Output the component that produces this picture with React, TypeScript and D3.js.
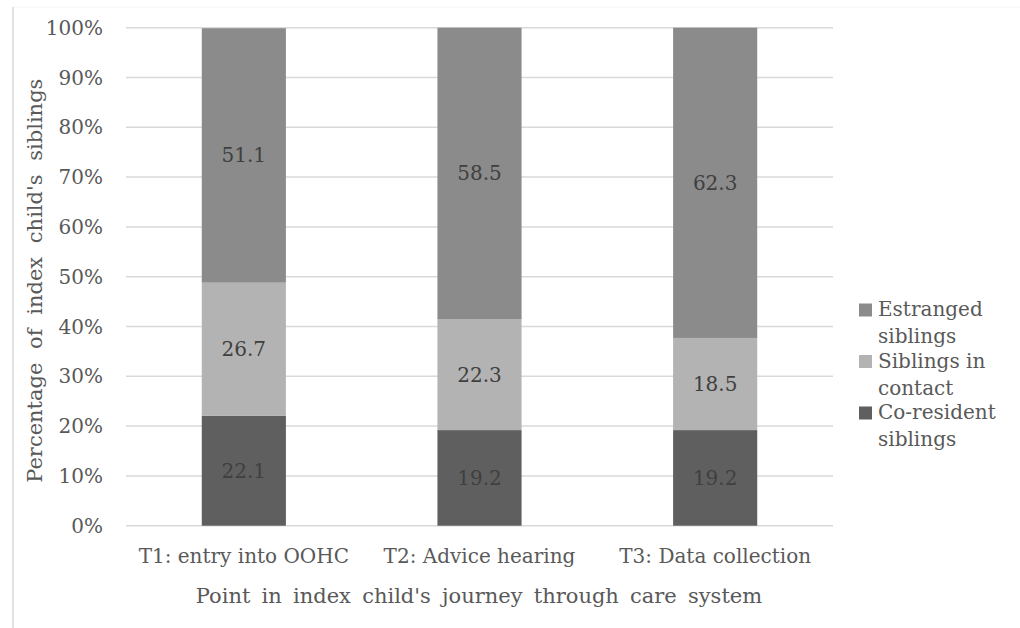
import React from "react";
import * as d3 from "d3";

const categories = ["T1: entry into OOHC", "T2: Advice hearing", "T3: Data collection"];
const coResident = [22.1, 19.2, 19.2];
const inContact = [26.7, 22.3, 18.5];
const estranged = [51.1, 58.5, 62.3];
const seriesNames = ["Co-resident siblings", "Siblings in contact", "Estranged siblings"];
const legendLines = [["Estranged", "siblings"], ["Siblings in", "contact"], ["Co-resident", "siblings"]];
const yTicks = [0, 10, 20, 30, 40, 50, 60, 70, 80, 90, 100];

const colors = ["#5f5f5f", "#b3b3b3", "#8b8b8b"];
const FONT = "'DejaVu Serif', serif";

export default function App() {
  const W = 1020, H = 628;
  const left = 126, right = 833, top = 27.7, bottom = 525.7;
  const x = d3.scaleBand<string>().domain(categories).range([left, right]).paddingInner(0.643).paddingOuter(0.3215);
  const y = d3.scaleLinear().domain([0, 100]).range([bottom, top]);
  const series = [coResident, inContact, estranged];
  const stacked = d3.stack<number>().keys(["0", "1", "2"]).value((d, k) => series[+k][d])(categories.map((_, i) => i));

  return (
    <svg width={W} height={H} style={{ position: "absolute", left: 0, top: 0 }} fontFamily={FONT}>
      <rect x={0} y={0} width={W} height={H} fill="#fff" />
      <line x1={13} x2={W} y1={7} y2={7} stroke="#f4f4f4" strokeWidth={1} />
      <line x1={13} x2={13} y1={7} y2={H} stroke="#d9d9d9" strokeWidth={1.5} />
      {yTicks.map((t) => (
        <g key={t}>
          <line x1={left} x2={right} y1={y(t)} y2={y(t)} stroke="#d9d9d9" strokeWidth={1.5} />
          <text x={103} y={y(t)} dy="0.35em" textAnchor="end" fontSize={20} fill="#595959">{t}%</text>
        </g>
      ))}
      {stacked.map((layer, si) => (
        <g key={si}>
          {layer.map((d, ci) => {
            const x0 = x(categories[ci])!;
            const y0 = y(d[1]);
            const h = y(d[0]) - y(d[1]);
            return (
              <g key={ci}>
                <rect x={x0} y={y0} width={x.bandwidth()} height={h} fill={colors[si]} />
                <text x={x0 + x.bandwidth() / 2} y={y0 + h / 2} dy="0.35em" textAnchor="middle" fontSize={20} fill="#404040">
                  {series[si][ci].toFixed(1)}
                </text>
              </g>
            );
          })}
        </g>
      ))}
      {categories.map((c) => (
        <text key={c} x={x(c)! + x.bandwidth() / 2} y={563} textAnchor="middle" fontSize={20} fill="#595959">{c}</text>
      ))}
      <text x={479} y={603} textAnchor="middle" fontSize={21} fill="#595959" wordSpacing={4.5}>
        Point in index child's journey through care system
      </text>
      <text transform={`translate(42,${(top + bottom) / 2 + 4}) rotate(-90)`} textAnchor="middle" fontSize={21} fill="#595959" wordSpacing={7}>
        Percentage of index child's siblings
      </text>
      {legendLines.map((lines, i) => {
        const base = 316 + 51.5 * i;
        return (
          <g key={i}>
            <rect x={859} y={base - 12.5} width={13} height={13} fill={colors[2 - i]} />
            {lines.map((l, j) => (
              <text key={j} x={878} y={base + 27 * j} fontSize={20} fill="#595959">{l}</text>
            ))}
          </g>
        );
      })}
    </svg>
  );
}
